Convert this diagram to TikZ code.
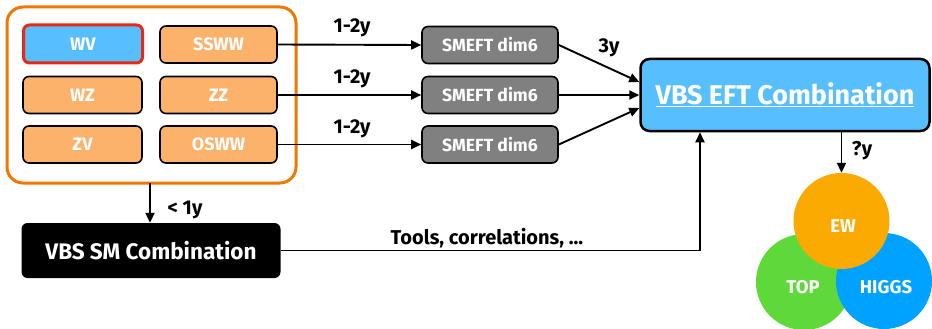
\documentclass[tikz,border=0pt]{standalone}
\usepackage{fontspec}
\setmainfont{Fira Sans}
\usetikzlibrary{arrows.meta}
\definecolor{ogline}{RGB}{240,120,0}
\definecolor{ogfill}{RGB}{253,178,107}
\definecolor{bluefill}{RGB}{88,191,255}
\definecolor{redline}{RGB}{232,40,20}
\definecolor{greyfill}{RGB}{128,128,128}
\definecolor{ewfill}{RGB}{250,170,0}
\definecolor{topfill}{RGB}{95,217,58}
\definecolor{higgsfill}{RGB}{0,162,255}
\tikzset{
  procbox/.style={draw=black,line width=1.6pt,rounded corners=6pt,fill=ogfill,minimum width=117pt,minimum height=37pt,inner sep=0pt,text=white,font=\bfseries\fontsize{18}{20}\selectfont},
  smeftbox/.style={procbox,fill=greyfill,minimum width=136pt,font=\bfseries\fontsize{17.6}{20}\selectfont},
  conn/.style={line width=1.9pt,-{Triangle[length=10pt,width=9pt]}},
  lbl/.style={font=\bfseries\fontsize{20}{22}\selectfont,inner sep=0pt,anchor=base},
  circ/.style={circle,minimum size=96pt,inner sep=0pt},
  circtext/.style={text=white,font=\bfseries\fontsize{18.5}{20}\selectfont,inner sep=0pt}
}
\begin{document}
\begin{tikzpicture}[x=1pt,y=-1pt]
\useasboundingbox (0,0) rectangle (932,329);
% outer group
\draw[ogline,line width=3pt,rounded corners=16pt] (7,7) rectangle (296,183);
\node[procbox,fill=bluefill,draw=redline,line width=3pt,minimum width=119pt,minimum height=38pt] (wv) at (83,44) {WV};
\node[procbox] (ssww) at (218.5,44.5) {SSWW};
\node[procbox,minimum width=119pt] (wz) at (82.5,95) {WZ};
\node[procbox] (zz) at (218.5,95) {ZZ};
\node[procbox,minimum width=119pt] (zv) at (82.5,144.5) {ZV};
\node[procbox] (osww) at (218.5,144.5) {OSWW};
\coordinate (grpS) at (150,183);
% smeft
\node[smeftbox] (s1) at (490,45) {SMEFT dim6};
\node[smeftbox] (s2) at (490,95) {SMEFT dim6};
\node[smeftbox] (s3) at (490,144.5) {SMEFT dim6};
% eft
\node[draw=black,line width=2.5pt,rounded corners=9pt,fill=bluefill,minimum width=289pt,minimum height=72pt,inner sep=0pt,text=white,font=\bfseries\fontsize{27}{30}\selectfont] (eft) at (785,95) {\raisebox{-3pt}{\underline{VBS EFT Combination}}};
% sm
\node[fill=black,rounded corners=6pt,minimum width=259pt,minimum height=55pt,inner sep=0pt,text=white,font=\bfseries\fontsize{22.5}{25}\selectfont] (sm) at (151,250.5) {VBS SM Combination};
% circles
\node[circ,fill=topfill] (top) at (804,282) {};
\node[circ,fill=higgsfill] (higgs) at (884,281) {};
\node[circ,fill=ewfill] (ew) at (841.5,221) {};
\node[circtext] at (843,226) {EW};
\node[circtext] at (803,287) {TOP};
\node[circtext] at (886,287) {HIGGS};
% connectors
\draw[conn] (ssww.east) -- (s1.west);
\draw[conn] (zz.east) -- (s2.west);
\draw[conn] (osww.east) -- (s3.west);
\node[lbl] at (352,33) {1-2y};
\node[lbl] at (352,84) {1-2y};
\node[lbl] at (352,133) {1-2y};
\draw[conn] (s1.east) -- ([yshift=13pt]eft.west);
\draw[conn] (s2.east) -- (eft.west);
\draw[conn] (s3.east) -- ([yshift=-13pt]eft.west);
\node[lbl] at (609,53) {3y};
\draw[conn] (eft.south -| ew.north) -- (ew.north);
\node[lbl] at (862,155) {?y};
\draw[conn] (grpS) -- (sm.north -| grpS);
\node[lbl] at (185,214) {< 1y};
\draw[conn] (sm.east) -| (eft.south -| 700,0);
\node[lbl] at (487,244) {Tools, correlations, ...};
\end{tikzpicture}
\end{document}
